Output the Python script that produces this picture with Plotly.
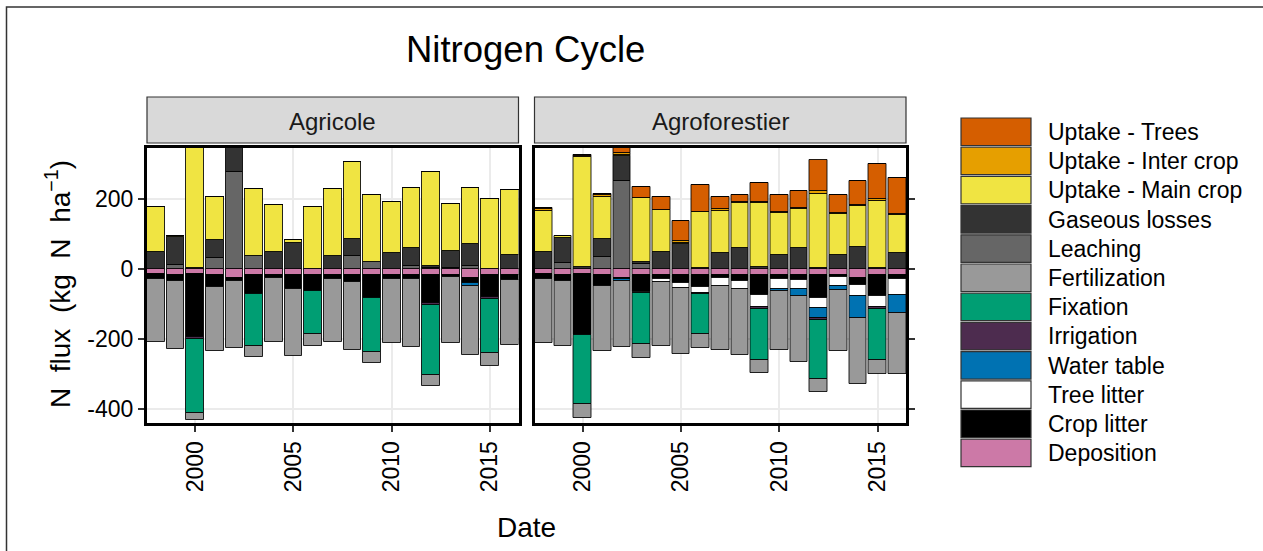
import plotly.graph_objects as go

W, H = 1263, 551
years = list(range(1998, 2017))

# ---------------- Agricole (values in kg N / ha, signed as plotted) ----------------
agr_leaching    = [0, 12, 2, 31, 277, 38, 0, 0, 0, 0, 39, 22, 0, 10, 5, 5, 10, 0, 0]
agr_gaseous     = [50, 79, 2, 53, 85, 0, 50, 76, 0, 38, 48, 0, 46, 50, 5, 48, 61, 0, 41]
agr_main_crop   = [129, 5, 365, 124, 0, 192, 134, 9, 179, 192, 219, 190, 147, 173, 267, 134, 162, 201, 186]
agr_inter_crop  = [0] * 19
agr_trees       = [0] * 19
agr_deposition  = [-14, -16, -14, -16, -25, -16, -16, -15, -15, -15, -15, -15, -15, -15, -16, -15, -25, -15, -15]
agr_crop_litter = [-13, -16, -180, -34, -7, -55, -10, -42, -46, -12, -20, -68, -12, -12, -81, -8, -15, -63, -16]
agr_tree_litter = [0] * 19
agr_water_table = [0, 0, 0, 0, 0, 0, 0, 0, 0, 0, 0, 0, 0, 0, 0, 0, -8, 0, 0]
agr_irrigation  = [0, 0, -5, 0, 0, 0, 0, 0, 0, 0, 0, 0, 0, 0, -5, 0, 0, -7, 0]
agr_fixation    = [0, 0, -210, 0, 0, -147, 0, 0, -125, 0, 0, -154, 0, 0, -201, 0, 0, -154, 0]
agr_fertilization = [-182, -196, -22, -182, -194, -33, -183, -191, -32, -182, -195, -32, -183, -195, -31, -187, -197, -36, -184]

# ---------------- Agroforestier ----------------
agf_leaching    = [0, 17, 0, 36, 253, 14, 0, 0, 0, 0, 0, 0, 0, 0, 0, 0, 0, 0, 0]
agf_gaseous     = [50, 72, 8, 51, 71, 8, 50, 72, 3, 46, 60, 8, 41, 60, 3, 41, 65, 5, 46]
agf_main_crop   = [118, 7, 312, 119, 3, 183, 120, 3, 162, 122, 129, 182, 121, 112, 212, 117, 116, 190, 109]
agf_inter_crop  = [4, 0, 5, 5, 6, 0, 0, 5, 0, 5, 3, 3, 3, 3, 8, 2, 3, 7, 3]
agf_trees       = [2, 0, 3, 5, 25, 29, 36, 57, 76, 33, 20, 53, 47, 48, 89, 52, 68, 100, 102]
agf_deposition  = [-14, -16, -14, -16, -24, -15, -15, -15, -15, -15, -15, -15, -15, -15, -15, -15, -25, -15, -15]
agf_crop_litter = [-15, -16, -174, -33, -5, -49, -12, -24, -36, -10, -19, -57, -12, -15, -66, -8, -19, -62, -12]
agf_tree_litter = [0, 0, 0, 0, 0, -5, -8, -14, -16, -22, -22, -35, -29, -27, -29, -24, -31, -31, -45]
agf_water_table = [0, 0, 0, 0, -5, 0, 0, 0, 0, 0, 0, 0, -5, -20, -30, -13, -65, 0, -54]
agf_irrigation  = [0, 0, 0, 0, 0, 0, 0, 0, -4, 0, 0, -5, 0, 0, -5, 0, 0, -6, 0]
agf_fixation    = [0, 0, -198, 0, 0, -144, 0, 0, -115, 0, 0, -148, 0, 0, -167, 0, 0, -146, 0]
agf_fertilization = [-181, -188, -38, -183, -189, -41, -184, -189, -38, -184, -188, -36, -170, -189, -38, -173, -188, -38, -174]

# ---------------- categories / colours ----------------
legend_names = ["Uptake - Trees", "Uptake - Inter crop", "Uptake - Main crop", "Gaseous losses",
                "Leaching", "Fertilization", "Fixation", "Irrigation", "Water table",
                "Tree litter", "Crop litter", "Deposition"]
legend_colors = ["#D55E00", "#E69F00", "#F0E442", "#333333", "#666666", "#999999",
                 "#009E73", "#4D2C4F", "#0072B2", "#FFFFFF", "#000000", "#CC79A7"]
color_of = dict(zip(legend_names, legend_colors))

panel_names = ["Agricole", "Agroforestier"]
x_tick_vals = [2000, 2005, 2010, 2015]
x_tick_text = ["2000", "2005", "2010", "2015"]
y_tick_vals = [-400, -200, 0, 200]
y_tick_text = ["-400", "-200", "0", "200"]

agr = {"Leaching": agr_leaching, "Gaseous losses": agr_gaseous, "Uptake - Main crop": agr_main_crop,
       "Uptake - Inter crop": agr_inter_crop, "Uptake - Trees": agr_trees,
       "Deposition": agr_deposition, "Crop litter": agr_crop_litter, "Tree litter": agr_tree_litter,
       "Water table": agr_water_table, "Irrigation": agr_irrigation, "Fixation": agr_fixation,
       "Fertilization": agr_fertilization}
agf = {"Leaching": agf_leaching, "Gaseous losses": agf_gaseous, "Uptake - Main crop": agf_main_crop,
       "Uptake - Inter crop": agf_inter_crop, "Uptake - Trees": agf_trees,
       "Deposition": agf_deposition, "Crop litter": agf_crop_litter, "Tree litter": agf_tree_litter,
       "Water table": agf_water_table, "Irrigation": agf_irrigation, "Fixation": agf_fixation,
       "Fertilization": agf_fertilization}

# stacking order: nearest to zero first
stack_order = ["Leaching", "Gaseous losses", "Uptake - Main crop", "Uptake - Inter crop", "Uptake - Trees",
               "Deposition", "Crop litter", "Tree litter", "Water table", "Irrigation", "Fixation",
               "Fertilization"]

FONT = "Liberation Sans, Arial, sans-serif"

fig = go.Figure()
for data, xa, ya in [(agr, "x", "y"), (agf, "x2", "y2")]:
    for name in stack_order:
        fig.add_trace(go.Bar(
            x=years, y=data[name], name=name, xaxis=xa, yaxis=ya, width=0.9,
            marker=dict(color=color_of[name], line=dict(color="rgba(0,0,0,0.85)", width=1)),
            showlegend=False))

def px_x(p):
    return p / W

def px_y(p):
    return 1 - p / H

P_TOP, P_BOT = 148, 423
L_X0, L_X1 = 147, 518.5
R_X0, R_X1 = 534.5, 906
X_RANGE = [1997.55, 2016.45]
Y_RANGE = [-439, 346.6]

common_x = dict(range=X_RANGE, tickvals=x_tick_vals, ticktext=x_tick_text, tickangle=-90,
                ticks="outside", ticklen=6, tickwidth=1.5, tickcolor="#333333",
                showline=True, linecolor="black", linewidth=3, mirror=True,
                showgrid=True, gridcolor="#EBEBEB", gridwidth=1.5, zeroline=False,
                tickfont=dict(family=FONT, size=23, color="black"))
common_y = dict(range=Y_RANGE, tickvals=y_tick_vals, ticktext=y_tick_text,
                ticks="outside", ticklen=6, tickwidth=1.5, tickcolor="#333333",
                showline=True, linecolor="black", linewidth=3, mirror=True,
                showgrid=True, gridcolor="#EBEBEB", gridwidth=1.5, zeroline=False,
                tickfont=dict(family=FONT, size=23, color="black"),
                domain=[px_y(P_BOT), px_y(P_TOP)])

fig.update_layout(
    width=W, height=H, autosize=False,
    margin=dict(l=0, r=0, t=0, b=0),
    paper_bgcolor="white", plot_bgcolor="white",
    barmode="relative", bargap=0,
    font=dict(family=FONT, color="black"),
    xaxis=dict(domain=[px_x(L_X0), px_x(L_X1)], anchor="y", **common_x),
    xaxis2=dict(domain=[px_x(R_X0), px_x(R_X1)], anchor="y2", **common_x),
    yaxis=dict(anchor="x", **common_y),
    yaxis2=dict(anchor="x2", side="right", showticklabels=False, **common_y),
)

shapes = []
annotations = []

# outer frame of the image
shapes.append(dict(type="rect", xref="paper", yref="paper",
                   x0=px_x(6.5), x1=px_x(1275), y0=px_y(565), y1=px_y(7),
                   line=dict(color="#333333", width=1.5), fillcolor="rgba(0,0,0,0)", layer="below"))

# strips
for (x0, x1), label in zip([(L_X0, L_X1), (R_X0, R_X1)], panel_names):
    shapes.append(dict(type="rect", xref="paper", yref="paper",
                       x0=px_x(x0), x1=px_x(x1), y0=px_y(143), y1=px_y(97),
                       fillcolor="#D9D9D9", line=dict(color="#333333", width=1.2)))
    annotations.append(dict(text=label, xref="paper", yref="paper",
                            x=px_x((x0 + x1) / 2), y=px_y(121), showarrow=False,
                            xanchor="center", yanchor="middle",
                            font=dict(family=FONT, size=24, color="#1A1A1A")))

# title
annotations.append(dict(text="Nitrogen Cycle", xref="paper", yref="paper",
                        x=px_x(525), y=px_y(49), showarrow=False, xanchor="center", yanchor="middle",
                        font=dict(family=FONT, size=36.5, color="black")))
# axis titles
NB = "\u00a0"
ytitle = f"N {NB}flux {NB}(kg {NB}N {NB}ha<sup>−1</sup>)"
annotations.append(dict(text=ytitle, xref="paper", yref="paper",
                        x=px_x(58), y=px_y(284), showarrow=False, textangle=-90,
                        xanchor="center", yanchor="middle",
                        font=dict(family=FONT, size=28, color="black")))
annotations.append(dict(text="Date", xref="paper", yref="paper",
                        x=px_x(526), y=px_y(527), showarrow=False,
                        xanchor="center", yanchor="middle",
                        font=dict(family=FONT, size=28, color="black")))

# legend (manual, ggplot style keys)
KEY_X0, KEY_X1 = 961, 1031
for i, (name, col) in enumerate(zip(legend_names, legend_colors)):
    top = 118 + i * 29.2
    shapes.append(dict(type="rect", xref="paper", yref="paper",
                       x0=px_x(KEY_X0), x1=px_x(KEY_X1), y0=px_y(top + 27.5), y1=px_y(top),
                       fillcolor=col, line=dict(color="#333333", width=1.2)))
    annotations.append(dict(text=name, xref="paper", yref="paper",
                            x=px_x(1046), y=px_y(top + 14), showarrow=False,
                            xanchor="left", yanchor="middle",
                            font=dict(family=FONT, size=23, color="black")))

fig.update_layout(shapes=shapes, annotations=annotations)
fig.write_html("out.html")
